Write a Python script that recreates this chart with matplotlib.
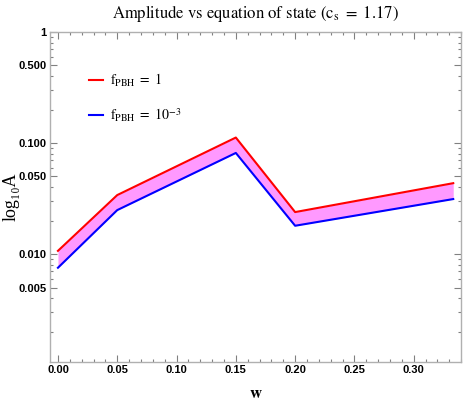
import numpy as np
import matplotlib.pyplot as plt
from matplotlib.ticker import FixedLocator, FixedFormatter, MultipleLocator

plt.rcParams['mathtext.fontset'] = 'stix'

# equation of state parameter w
w = [0.0, 0.05, 0.15, 0.20, 1.0 / 3.0]
# amplitude for f_PBH = 1 and f_PBH = 1e-3
amp_f1 = [0.0107, 0.034, 0.112, 0.0239, 0.0435]
amp_f3 = [0.00754, 0.0249, 0.0814, 0.018, 0.0313]

y_ticks = [0.005, 0.01, 0.05, 0.1, 0.5, 1.0]
y_tick_labels = ["0.005", "0.010", "0.050", "0.100", "0.500", "1"]
x_ticks = [0.0, 0.05, 0.10, 0.15, 0.20, 0.25, 0.30]

frame_col = "#b0b0b0"
tick_font = dict(family=["Liberation Sans Narrow", "Liberation Sans"], weight="bold", size=8)

fig = plt.figure(figsize=(4.63, 4.09), dpi=100)
ax = fig.add_axes([0.108, 0.115, 0.888, 0.807])

ax.fill_between(w, amp_f3, amp_f1, color="#ff99ff", linewidth=0)
ax.plot(w, amp_f1, color="#ff0000", lw=1.5, label=r"$\mathrm{f_{PBH}}\ =\ 1$")
ax.plot(w, amp_f3, color="#0000ff", lw=1.5, label=r"$\mathrm{f_{PBH}}\ =\ 10^{-3}$")

ax.set_yscale("log")
ax.set_xlim(-0.0067, 0.34)
ax.set_ylim(0.00107, 1.0)

ax.yaxis.set_major_locator(FixedLocator(y_ticks))
ax.yaxis.set_major_formatter(FixedFormatter(y_tick_labels))
minor_y = [m * 10.0 ** e for e in range(-3, 0) for m in range(2, 10)]
minor_y = [v for v in minor_y if not any(abs(v - t) < 1e-9 for t in y_ticks)]
ax.yaxis.set_minor_locator(FixedLocator(minor_y))
ax.xaxis.set_major_locator(FixedLocator(x_ticks))
ax.xaxis.set_minor_locator(MultipleLocator(0.01))
ax.set_xticklabels([f"{t:.2f}" for t in x_ticks])

for s in ax.spines.values():
    s.set_color(frame_col)
    s.set_linewidth(1.0)
ax.tick_params(which="both", direction="in", top=True, right=True,
               color="#808080", width=0.8, pad=2.5)
ax.tick_params(which="major", length=5)
ax.tick_params(which="minor", length=2.5)
for lab in ax.get_xticklabels() + ax.get_yticklabels():
    lab.set(**tick_font)

ax.set_title(r"Amplitude vs equation of state $(\mathrm{c_s}\ =\ 1.17)$",
             family="STIXGeneral", fontsize=12, pad=10)
ax.set_xlabel(r"$\mathbf{w}$", fontsize=12, labelpad=6)
ax.set_ylabel("log₁₀A", family=["Liberation Serif", "DejaVu Serif"], fontsize=13)
ax.yaxis.set_label_coords(-0.075, 0.5)

ax.legend(loc="upper left", bbox_to_anchor=(0.081, 0.895), borderaxespad=0,
          frameon=False, fontsize=10, handlelength=1.0, handletextpad=0.5,
          labelspacing=1.2)

fig.savefig("out.png", dpi=100)
